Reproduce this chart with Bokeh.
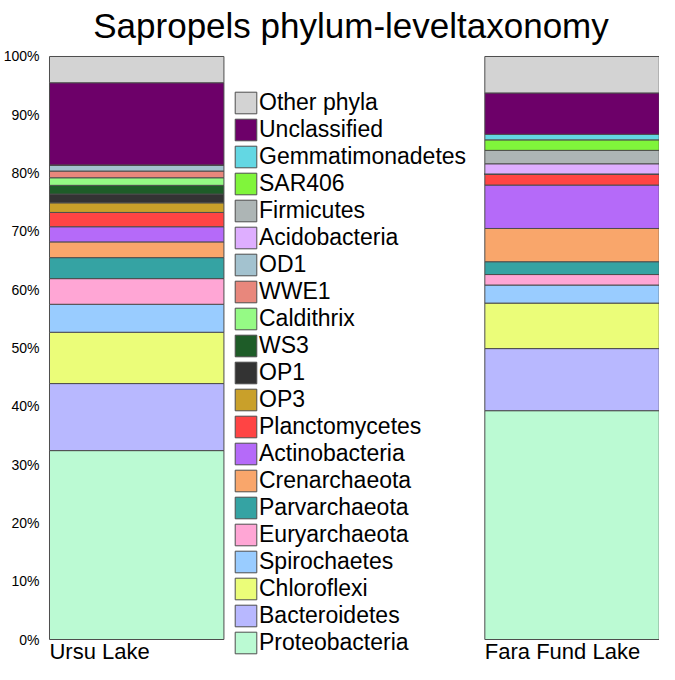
from bokeh.plotting import figure
from bokeh.models import ColumnDataSource, Range1d, FixedTicker, Legend, LegendItem
from bokeh.core.properties import value
from bokeh.embed import file_html
from bokeh.resources import INLINE

# ---------------- data ----------------
lakes = ["Ursu Lake", "Fara Fund Lake"]

phyla = ["Proteobacteria", "Bacteroidetes", "Chloroflexi", "Spirochaetes",
         "Euryarchaeota", "Parvarchaeota", "Crenarchaeota", "Actinobacteria",
         "Planctomycetes", "OP3", "OP1", "WS3", "Caldithrix", "WWE1", "OD1",
         "Acidobacteria", "Firmicutes", "SAR406", "Gemmatimonadetes",
         "Unclassified", "Other phyla"]

ursu = [32.4, 11.5, 8.8, 4.8, 4.4, 3.6, 2.7, 2.6, 2.45, 1.65, 1.5, 1.5, 1.3,
        1.15, 1.05, 0.0, 0.0, 0.0, 0.0, 14.1, 4.5]
fara = [39.25, 10.65, 7.8, 3.1, 1.8, 2.2, 5.7, 7.45, 1.9, 0.0, 0.0, 0.0, 0.0,
        0.0, 0.0, 1.75, 2.3, 1.8, 0.95, 7.1, 6.25]

colors = ["#bbfad3", "#b8b8ff", "#ebfd79", "#99ccff", "#ffa6d5", "#35a3a3",
          "#f9a66b", "#b56af9", "#ff4444", "#c9a02a", "#333333", "#1e5c28",
          "#95fa85", "#e8877c", "#a3c2cf", "#deaeff", "#adb5b5", "#80f53b",
          "#63d7e3", "#6d0069", "#d3d3d3"]

tick_values = [0, 10, 20, 30, 40, 50, 60, 70, 80, 90, 100]
tick_labels = ["0%", "10%", "20%", "30%", "40%", "50%", "60%", "70%", "80%",
               "90%", "100%"]

title_text = "Sapropels phylum-leveltaxonomy"

# ---------------- layout ----------------
FONT = "Liberation Sans"
xpos = [0.0, 1.0]
bar_w = 0.4007

data = {"x": xpos}
for i, name in enumerate(phyla):
    data[name] = [ursu[i], fara[i]]
source = ColumnDataSource(data)

p = figure(width=659, height=664, output_backend="svg", toolbar_location=None,
           x_range=Range1d(-0.2164, 1.2009), y_range=Range1d(-4.288, 101.715),
           x_axis_location=None,
           min_border_left=40, min_border_right=0, min_border_top=46,
           min_border_bottom=0, title=title_text)

p.title.text_font = FONT
p.title.text_font_size = "35px"
p.title.text_font_style = "normal"
p.title.text_color = "black"
p.title.align = "center"
p.title.vertical_align = "top"
p.title.standoff = 0
p.title.offset = -12

renderers = p.vbar_stack(phyla, x="x", width=bar_w, color=colors,
                         line_color="#4d4d4d", line_width=1, source=source)

# category labels (left-aligned under each bar)
lab_src = ColumnDataSource({"x": [x - bar_w / 2 for x in xpos],
                            "y": [0, 0], "t": lakes})
p.text(x="x", y="y", text="t", source=lab_src, text_font=value(FONT),
       text_font_size="22px", text_align="left", text_baseline="bottom",
       y_offset=24.5, text_color="black")

# axes
yax = p.yaxis[0]
yax.ticker = FixedTicker(ticks=tick_values)
yax.major_label_overrides = {v: l for v, l in zip(tick_values, tick_labels)}
yax.axis_line_color = None
yax.major_tick_line_color = None
yax.minor_tick_line_color = None
yax.major_tick_out = 0
yax.major_tick_in = 0
yax.minor_tick_out = 0
yax.minor_tick_in = 0
yax.major_label_standoff = 3
yax.major_label_text_font = FONT
yax.major_label_text_font_size = "14px"
yax.major_label_text_color = "black"

p.xgrid.visible = False
p.ygrid.visible = False
p.outline_line_color = None

items = [LegendItem(label=name, renderers=[r])
         for name, r in reversed(list(zip(phyla, renderers)))]
legend = Legend(items=items, location=(190, 8), orientation="vertical",
                glyph_width=27, glyph_height=27, label_height=27,
                label_standoff=0, spacing=0, padding=0, margin=0,
                border_line_color=None, background_fill_alpha=0,
                label_text_font=FONT, label_text_font_size="23px",
                label_text_color="black")
p.add_layout(legend, "center")

open("out.html", "w").write(file_html(p, INLINE))
